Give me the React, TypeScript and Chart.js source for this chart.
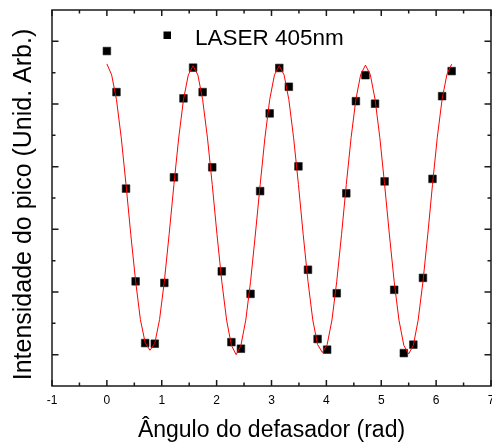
import React, { useEffect, useRef } from "react";
import { Chart, registerables } from "chart.js";

Chart.register(...registerables);

// ---- data ----
const angleX = [
  0, 0.175, 0.349, 0.524, 0.698, 0.873, 1.047, 1.222, 1.396, 1.571,
  1.745, 1.92, 2.094, 2.269, 2.443, 2.618, 2.793, 2.967, 3.142, 3.316,
  3.491, 3.665, 3.84, 4.014, 4.189, 4.363, 4.538, 4.712, 4.887, 5.061,
  5.236, 5.411, 5.585, 5.76, 5.934, 6.109, 6.283,
];
const intensity = [
  10.69, 9.38, 6.3, 3.34, 1.37, 1.35, 3.29, 6.66, 9.18, 10.16,
  9.38, 6.98, 3.66, 1.4, 1.19, 2.94, 6.22, 8.7, 10.15, 9.55,
  7.01, 3.71, 1.5, 1.16, 2.96, 6.15, 9.09, 9.92, 9.01, 6.53,
  3.07, 1.05, 1.32, 3.45, 6.61, 9.25, 10.05,
];
const fitX = [
  0, 0.087, 0.175, 0.262, 0.349, 0.436, 0.524, 0.611, 0.698, 0.785,
  0.873, 0.96, 1.047, 1.134, 1.222, 1.309, 1.396, 1.484, 1.571, 1.658,
  1.745, 1.833, 1.92, 2.007, 2.094, 2.182, 2.269, 2.356, 2.443, 2.531,
  2.618, 2.705, 2.793, 2.88, 2.967, 3.054, 3.142, 3.229, 3.316, 3.403,
  3.491, 3.578, 3.665, 3.752, 3.84, 3.927, 4.014, 4.102, 4.189, 4.276,
  4.363, 4.451, 4.538, 4.625, 4.712, 4.8, 4.887, 4.974, 5.061, 5.149,
  5.236, 5.323, 5.411, 5.498, 5.585, 5.672, 5.76, 5.847, 5.934, 6.021,
  6.109, 6.196, 6.283,
];
const fitY = [
  10.28, 9.93, 9.14, 7.92, 6.43, 4.83, 3.34, 2.12, 1.38, 1.14,
  1.36, 2.12, 3.34, 4.83, 6.43, 7.92, 9.14, 9.93, 10.22, 9.93,
  9.14, 7.92, 6.43, 4.83, 3.34, 2.1, 1.3, 1.0, 1.3, 2.1,
  3.33, 4.82, 6.42, 7.92, 9.14, 9.93, 10.22, 9.93, 9.14, 7.92,
  6.43, 4.83, 3.34, 2.11, 1.32, 1.07, 1.32, 2.11, 3.34, 4.83,
  6.43, 7.93, 9.15, 9.94, 10.24, 9.94, 9.15, 7.93, 6.43, 4.82,
  3.33, 2.1, 1.3, 1.02, 1.3, 2.1, 3.33, 4.82, 6.43, 7.93,
  9.15, 9.94, 10.27,
];
const xTickValues = [-1, 0, 1, 2, 3, 4, 5, 6, 7];
const legendLabel = "LASER 405nm";
const xTitle = "Ângulo do defasador (rad)";
const yTitle = "Intensidade do pico (Unid. Arb.)";

const FONT = "'Liberation Sans', Arial, Helvetica, sans-serif";

const framePlugin = {
  id: "frame",
  afterDraw(chart: any) {
    const { ctx, chartArea } = chart;
    const { left, right, top, bottom } = chartArea;
    const xs = chart.scales.x;
    const ys = chart.scales.y;
    ctx.save();
    ctx.strokeStyle = "#1a1a1a";
    ctx.lineWidth = 1.5;
    ctx.beginPath();
    for (let i = 0; i < xTickValues.length * 2 - 1; i++) {
      const v = xTickValues[0] + i * 0.5;
      const px = xs.getPixelForValue(v);
      const len = i % 2 === 0 ? 6 : 3.5;
      ctx.moveTo(px, bottom);
      ctx.lineTo(px, bottom - len);
      ctx.moveTo(px, top);
      ctx.lineTo(px, top + len);
    }
    for (let v = 1; v <= 11; v++) {
      const py = ys.getPixelForValue(v);
      const len = v % 2 === 1 ? 6.5 : 3.5;
      ctx.moveTo(left, py);
      ctx.lineTo(left + len, py);
      ctx.moveTo(right, py);
      ctx.lineTo(right - len, py);
    }
    ctx.stroke();
    ctx.strokeRect(left, top, right - left, bottom - top);

    // legend
    ctx.fillStyle = "#000";
    ctx.fillRect(left + 111.5, top + 21.5, 7.5, 7.5);
    ctx.font = `22.5px ${FONT}`;
    ctx.textBaseline = "alphabetic";
    ctx.textAlign = "left";
    ctx.fillText(legendLabel, left + 143, top + 35);

    // y axis title
    ctx.save();
    ctx.translate(24.6, (top + bottom) / 2 + 6.5);
    ctx.rotate(-Math.PI / 2);
    ctx.font = `25px ${FONT}`;
    ctx.textAlign = "center";
    ctx.textBaseline = "middle";
    ctx.fillText(yTitle, 0, 0);
    ctx.restore();
    ctx.restore();
  },
};

export default function App() {
  const ref = useRef<HTMLCanvasElement | null>(null);
  useEffect(() => {
    if (!ref.current) return;
    Chart.defaults.font.family = FONT;
    const chart = new Chart(ref.current, {
      type: "scatter",
      data: {
        datasets: [
          {
            label: "fit",
            data: fitX.map((x, i) => ({ x, y: fitY[i] })),
            showLine: true,
            borderColor: "#ff0000",
            borderWidth: 1,
            pointRadius: 0,
            tension: 0,
            order: 0,
          } as any,
          {
            label: legendLabel,
            data: angleX.map((x, i) => ({ x, y: intensity[i] })),
            pointStyle: "rect",
            pointRadius: 5.4,
            pointBackgroundColor: "#000",
            pointBorderColor: "#1a1a1a",
            pointBorderWidth: 0.6,
            showLine: false,
            order: 1,
          } as any,
        ],
      },
      options: {
        responsive: false,
        animation: false,
        layout: { autoPadding: false, padding: { top: 10, right: 1, left: 0, bottom: 0 } },
        plugins: { legend: { display: false }, tooltip: { enabled: false } },
        scales: {
          x: {
            type: "linear",
            min: -1,
            max: 7,
            afterBuildTicks: (s: any) => {
              s.ticks = xTickValues.map((v) => ({ value: v }));
            },
            ticks: { color: "#000", font: { size: 12 }, padding: 7, maxRotation: 0 },
            grid: { display: false, drawTicks: false },
            border: { display: false },
            title: {
              display: true,
              text: xTitle,
              color: "#000",
              font: { size: 23 },
              padding: { top: 0, bottom: 2 },
            },
            afterFit: (s: any) => {
              s.height = 60;
              s.paddingLeft = 0;
              s.paddingRight = 0;
            },
          },
          y: {
            type: "linear",
            min: 0,
            max: 12,
            ticks: { display: false },
            grid: { display: false, drawTicks: false },
            border: { display: false },
            title: { display: false },
            afterFit: (s: any) => {
              s.width = 52;
              s.paddingTop = 0;
              s.paddingBottom = 0;
            },
          },
        },
      },
      plugins: [framePlugin],
    });
    return () => chart.destroy();
  }, []);
  return (
    <div style={{ position: "fixed", left: 0, top: 0, width: 492, height: 446, background: "#fff" }}>
      <canvas ref={ref} width={492} height={446} style={{ display: "block" }} />
    </div>
  );
}
